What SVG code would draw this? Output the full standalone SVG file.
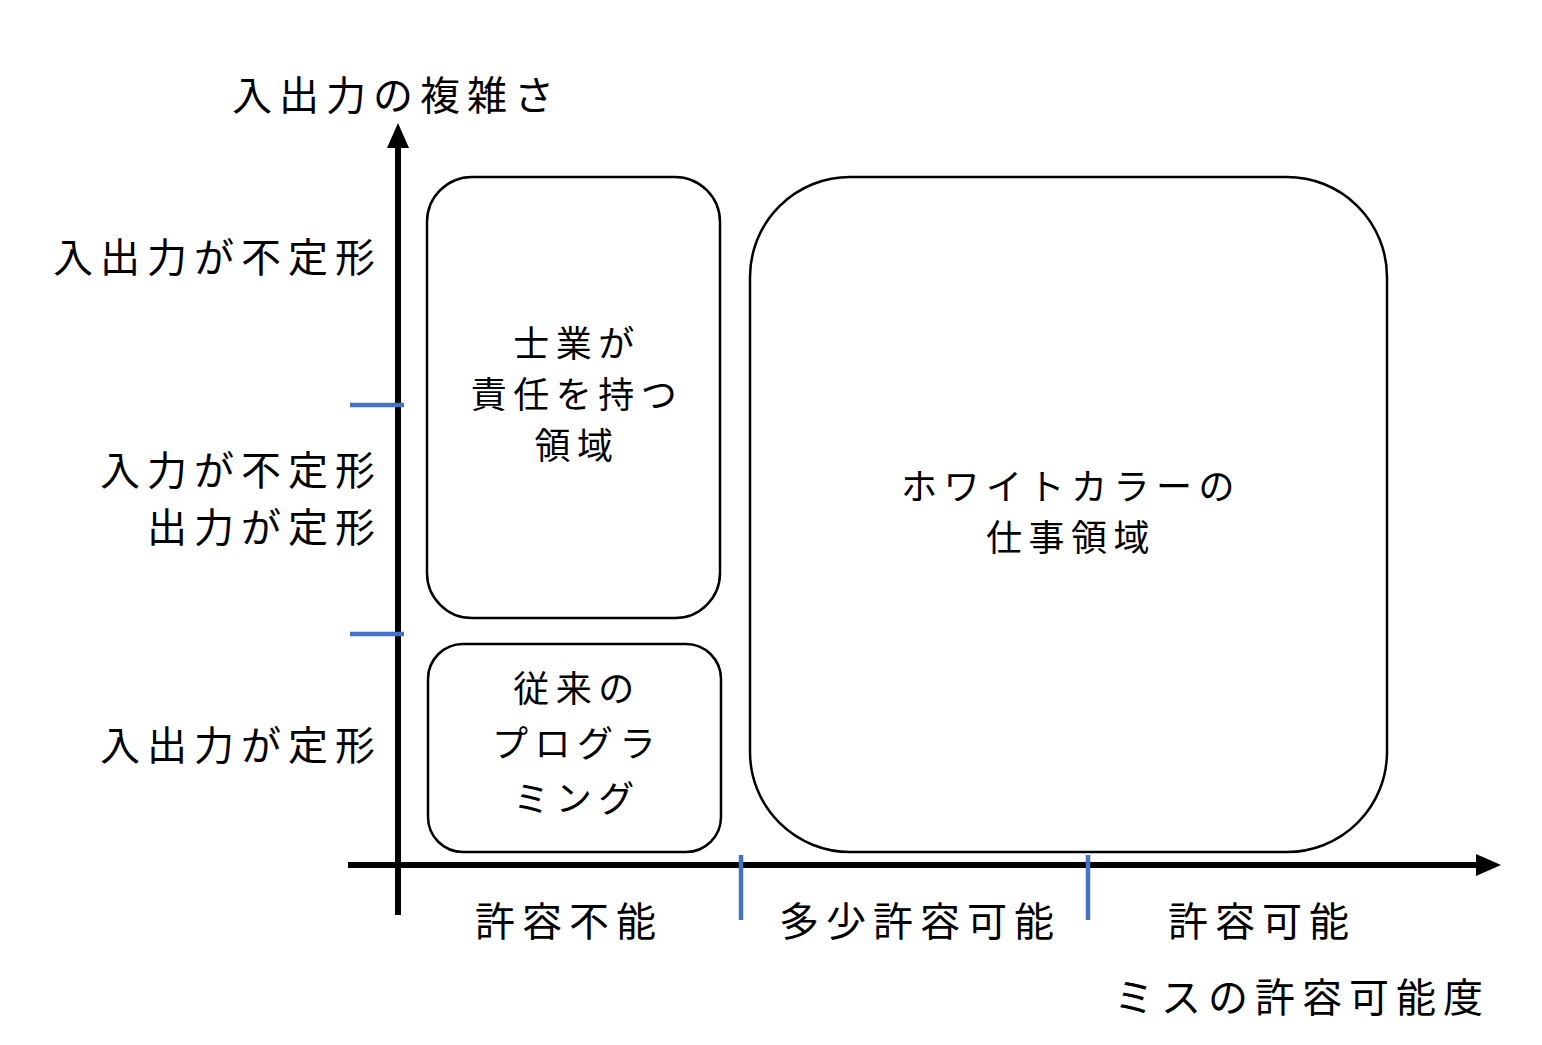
<svg xmlns="http://www.w3.org/2000/svg" width="1542" height="1045" viewBox="0 0 1542 1045">
<style>
text{font-family:"Noto Sans CJK JP","Noto Sans CJK SC",sans-serif;fill:#000}
.l{font-size:40px;letter-spacing:7px}
.b{font-size:36px;letter-spacing:6.5px}
.box{fill:#fff;stroke:#000;stroke-width:2.5}
.tick{stroke:#4472C4;stroke-width:4.5}
</style>
<rect width="1542" height="1045" fill="#fff"/>
<g id="connectors">
<line x1="398" y1="915" x2="398" y2="145" stroke="#000" stroke-width="6"/>
<polygon points="398,123 387,148 409,148" fill="#000"/>
<line x1="348" y1="865" x2="1478" y2="865" stroke="#000" stroke-width="6"/>
<polygon points="1501,865 1476,854 1476,876" fill="#000"/>
<line class="tick" x1="350" y1="405" x2="404" y2="405"/>
<line class="tick" x1="350" y1="634" x2="404" y2="634"/>
<line class="tick" x1="741" y1="855" x2="741" y2="920"/>
<line class="tick" x1="1088" y1="855" x2="1088" y2="920"/>
</g>
<g id="axis-labels">
<text class="l" x="232" y="110">入出力の複雑さ</text>
<text class="l" x="382" y="272" text-anchor="end">入出力が不定形</text>
<text class="l" x="382" y="485" text-anchor="end">入力が不定形</text>
<text class="l" x="382" y="542" text-anchor="end">出力が定形</text>
<text class="l" x="382" y="760" text-anchor="end">入出力が定形</text>
<text class="l" x="569" y="936" text-anchor="middle">許容不能</text>
<text class="l" x="920" y="936" text-anchor="middle">多少許容可能</text>
<text class="l" x="1262" y="936" text-anchor="middle">許容可能</text>
<text class="l" x="1490" y="1012" text-anchor="end">ミスの許容可能度</text>
</g>
<g id="node-shigyo">
<rect class="box" x="427" y="177" width="293" height="441" rx="45"/>
<text class="b" x="577" y="357" text-anchor="middle">士業が</text>
<text class="b" x="577" y="408" text-anchor="middle">責任を持つ</text>
<text class="b" x="577" y="459" text-anchor="middle">領域</text>
</g>
<g id="node-programming">
<rect class="box" x="428" y="644" width="293" height="208" rx="35"/>
<text class="b" x="577" y="702" text-anchor="middle">従来の</text>
<text class="b" x="577" y="757" text-anchor="middle">プログラ</text>
<text class="b" x="577" y="812" text-anchor="middle">ミング</text>
</g>
<g id="node-whitecollar">
<rect class="box" x="750" y="177" width="637" height="675" rx="100"/>
<text class="b" x="1071" y="500" text-anchor="middle">ホワイトカラーの</text>
<text class="b" x="1071" y="551" text-anchor="middle">仕事領域</text>
</g>
</svg>
